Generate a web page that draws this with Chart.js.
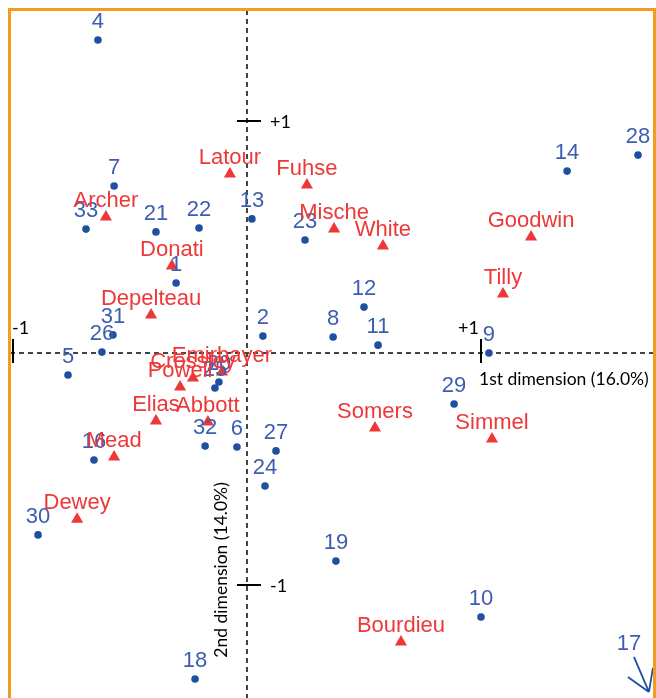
<!DOCTYPE html>
<html>
<head>
<meta charset="utf-8">
<script src="https://cdn.jsdelivr.net/npm/chart.js@4.4.0/dist/chart.umd.min.js"></script>
<style>
  html, body { margin: 0; padding: 0; background: #fff; }
  #wrap { width: 656px; height: 698px; }
</style>
</head>
<body>
<div id="wrap"><canvas id="ca" width="656" height="698"></canvas></div>
<script>
// cases (blue dots)
var caseLabels = ['4','7','33','21','22','13','23','14','28','1','31','26','5','2','8','12','11','9','29','16','32','6','27','24','30','19','10','18','20','25'];
var caseX = [-0.637,-0.568,-0.688,-0.389,-0.205,0.021,0.248,1.368,1.671,-0.303,-0.573,-0.620,-0.765,0.068,0.368,0.500,0.560,1.034,0.885,-0.654,-0.179,-0.043,0.124,0.077,-0.893,0.380,1.000,-0.222,-0.120,-0.137];
var caseY = [1.349,0.720,0.534,0.522,0.539,0.578,0.487,0.784,0.853,0.302,0.078,0.004,-0.095,0.073,0.069,0.198,0.034,0.000,-0.220,-0.461,-0.401,-0.405,-0.422,-0.573,-0.784,-0.897,-1.138,-1.405,-0.125,-0.151];

// authors (red triangles)
var authorLabels = ['Latour','Fuhse','Archer','Mische','White','Goodwin','Donati','Tilly','Depelteau','Emirbayer','Crossley','Powell','Elias','Abbott','Mead','Somers','Simmel','Dewey','Bourdieu'];
var authorX = [-0.073,0.256,-0.603,0.372,0.581,1.214,-0.321,1.094,-0.410,-0.107,-0.231,-0.286,-0.389,-0.167,-0.568,0.547,1.047,-0.726,0.658];
var authorY = [0.772,0.724,0.586,0.534,0.461,0.500,0.375,0.254,0.164,-0.082,-0.108,-0.147,-0.293,-0.297,-0.448,-0.323,-0.371,-0.716,-1.246];

// case lying outside the plotted window (shown with an arrow)
var outLabels = ['17'];
var outX = [1.722];
var outY = [-1.461];

var xTicks = [-1, 1];
var yTicks = [1, -1];
var xTitle = '1st dimension (16.0%)';
var yTitle = '2nd dimension (14.0%)';

var blueDot = '#1f4f9f';
var blueText = '#3d5eb0';
var red = '#ee3838';

var casePts = caseX.map(function (x, i) { return {x: x, y: caseY[i]}; });
var authorPts = authorX.map(function (x, i) { return {x: x, y: authorY[i]}; });

var biplot = {
  id: 'biplot',
  beforeDatasetsDraw: function (chart) {
    var c = chart.ctx, xs = chart.scales.x, ys = chart.scales.y;
    var x0 = xs.getPixelForValue(0), y0 = ys.getPixelForValue(0);
    c.save();
    // dashed axes
    c.strokeStyle = '#444';
    c.lineWidth = 2;
    c.setLineDash([5, 4]);
    c.beginPath();
    c.moveTo(x0, 10); c.lineTo(x0, chart.height);
    c.moveTo(10, y0); c.lineTo(chart.width, y0);
    c.stroke();
    c.setLineDash([]);
    // tick marks
    c.strokeStyle = '#000';
    c.lineWidth = 2;
    c.fillStyle = '#000';
    c.font = '18px Lato, "Open Sans", sans-serif';
    c.textBaseline = 'middle';
    yTicks.forEach(function (v) {
      var py = ys.getPixelForValue(v);
      c.beginPath(); c.moveTo(x0 - 10, py); c.lineTo(x0 + 14, py); c.stroke();
      c.textAlign = 'left';
      c.fillText((v > 0 ? '+' : '') + v, x0 + 23, py + 1);
    });
    xTicks.forEach(function (v) {
      var px = xs.getPixelForValue(v);
      c.beginPath(); c.moveTo(px, y0 - 14); c.lineTo(px, y0 + 10); c.stroke();
      c.textAlign = v > 0 ? 'right' : 'left';
      c.fillText((v > 0 ? '+' : '') + v, v > 0 ? px - 2 : px - 1, y0 - 25);
    });
    // axis titles
    c.font = '17.5px Lato, "Open Sans", sans-serif';
    c.textAlign = 'left';
    c.fillText(xTitle, xs.getPixelForValue(1) - 2, y0 + 26);
    c.save();
    c.translate(x0 - 26, ys.getPixelForValue(-0.935));
    c.rotate(-Math.PI / 2);
    c.textAlign = 'center';
    c.fillText(yTitle, 0, 0);
    c.restore();
    c.restore();
  },
  afterDatasetsDraw: function (chart) {
    var c = chart.ctx, xs = chart.scales.x, ys = chart.scales.y;
    c.save();
    c.font = '22px "Liberation Sans", Arial, sans-serif';
    c.textAlign = 'center';
    c.textBaseline = 'middle';
    chart.getDatasetMeta(0).data.forEach(function (p, i) {
      c.fillStyle = blueText;
      c.fillText(caseLabels[i], p.x, p.y - 18);
    });
    chart.getDatasetMeta(1).data.forEach(function (p, i) {
      c.fillStyle = red;
      c.fillText(authorLabels[i], p.x, p.y - 16);
    });
    // off-window case: arrow pointing out of the plot
    outLabels.forEach(function (lab, i) {
      var tx = xs.getPixelForValue(outX[i]), ty = ys.getPixelForValue(outY[i]);
      c.strokeStyle = blueDot;
      c.lineWidth = 1.8;
      c.beginPath();
      c.moveTo(tx - 16, ty - 35); c.lineTo(tx - 1, ty);
      c.moveTo(tx - 22, ty - 15); c.lineTo(tx - 1, ty);
      c.moveTo(tx + 3, ty - 24); c.lineTo(tx - 1, ty);
      c.stroke();
      c.fillStyle = blueText;
      c.fillText(lab, tx - 21, ty - 48);
    });
    // orange frame (open at the bottom)
    c.strokeStyle = '#f39c1f';
    c.lineWidth = 3;
    c.beginPath();
    c.moveTo(9.5, chart.height); c.lineTo(9.5, 9.5);
    c.lineTo(654.5, 9.5); c.lineTo(654.5, chart.height);
    c.stroke();
    c.restore();
  }
};

var ctx = document.getElementById('ca').getContext('2d');
var chart = new Chart(ctx, {
  type: 'scatter',
  data: {
    datasets: [{
      label: 'cases',
      data: casePts,
      pointStyle: 'circle',
      pointRadius: 3.8,
      backgroundColor: blueDot,
      borderColor: blueDot,
      borderWidth: 0
    }, {
      label: 'authors',
      data: authorPts,
      pointStyle: 'triangle',
      pointRadius: 7,
      backgroundColor: red,
      borderColor: red,
      borderWidth: 0
    }]
  },
  options: {
    responsive: false,
    animation: false,
    layout: { padding: 0, autoPadding: false },
    plugins: { legend: { display: false }, tooltip: { enabled: false } },
    scales: {
      x: { type: 'linear', display: false, min: -1.0556, max: 1.7479 },
      y: { type: 'linear', display: false, min: -1.487, max: 1.5216 }
    }
  },
  plugins: [biplot]
});
</script>
</body>
</html>
